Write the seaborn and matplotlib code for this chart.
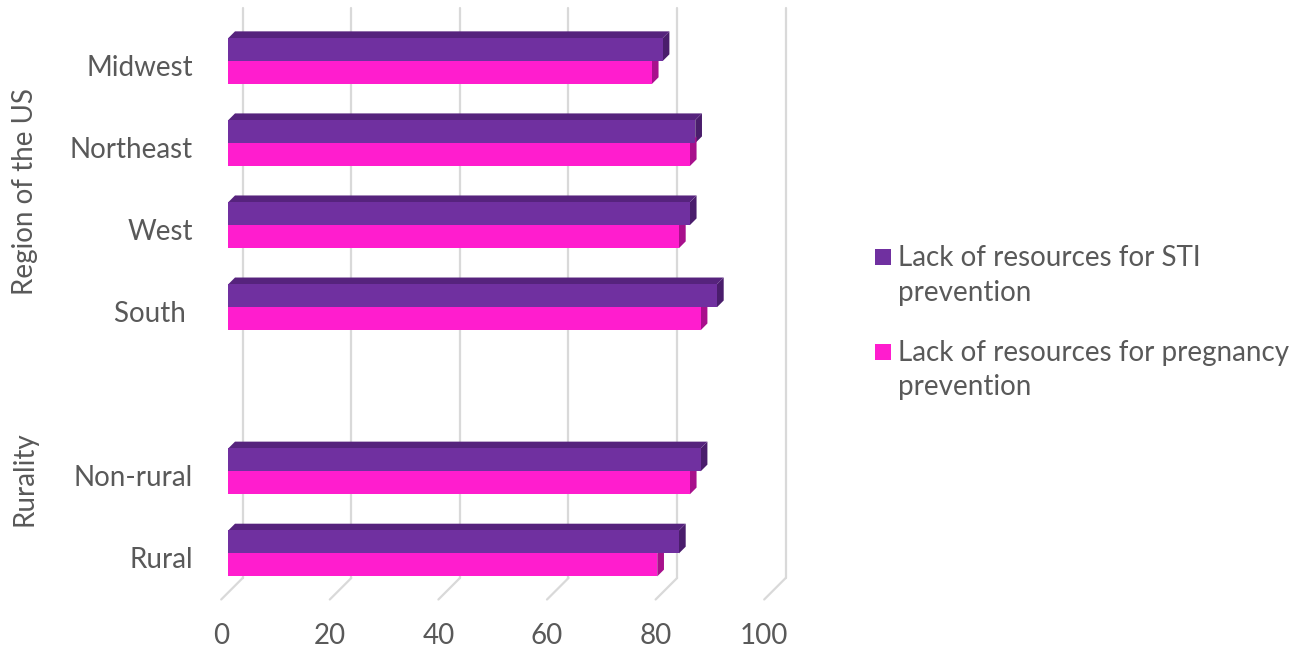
import numpy as np
import pandas as pd
import matplotlib
matplotlib.use("Agg")
import matplotlib.pyplot as plt
import seaborn as sns
from matplotlib.patches import Polygon, Rectangle
from matplotlib.lines import Line2D

# ---------------- data ----------------
regions = ["Midwest", "Northeast", "West", "South "]
rurality = ["Non-rural", "Rural"]
blank_slot = [""]
sti_region = [80, 86, 85, 90]
preg_region = [78, 85, 83, 87]
sti_rural = [87, 83]
preg_rural = [85, 79]
series = ["Lack of resources for STI prevention",
          "Lack of resources for pregnancy prevention"]
legend_labels = ["Lack of resources for STI\nprevention",
                 "Lack of resources for pregnancy\nprevention"]
group_titles = ["Region of the US", "Rurality"]
xticks = [0, 20, 40, 60, 80, 100]

# ---------------- style ----------------
sns.set_style("white")
plt.rcParams["font.family"] = ["Lato", "DejaVu Sans"]
TXT = "#595959"
GRID = "#D9D9D9"
PURPLE, PURPLE_TOP, PURPLE_SIDE = "#7030A0", "#56237D", "#4A1D6C"
PINK, PINK_SIDE = "#FF1DCE", "#A8108C"
FS = 20

order = regions + blank_slot + rurality
df = pd.DataFrame({
    "category": regions + rurality + regions + rurality,
    "value": sti_region + sti_rural + preg_region + preg_rural,
    "series": [series[0]] * 6 + [series[1]] * 6,
})

W, H = 1303, 652
fig = plt.figure(figsize=(W / 100, H / 100), dpi=100)
# axes in pixel layout (top-left origin): bar front plane
ax_left, ax_top, ax_w, ax_h = 228.3, 20.0, 543.0, 574.4
ax = fig.add_axes([ax_left / W, (H - ax_top - ax_h) / H, ax_w / W, ax_h / H])

sns.barplot(data=df, x="value", y="category", hue="series", order=order,
            hue_order=series, palette=[PURPLE, PINK], width=0.56, orient="h",
            ax=ax, legend=False, errorbar=None, saturation=1, linewidth=0)
ax.set_xlim(0, 100)
ax.set_ylim(len(order) - 0.5, -0.5)
ax.set_axis_off()
fig.canvas.draw()

# pixel helpers
px_per_x = ax.transData.transform((1, 0))[0] - ax.transData.transform((0, 0))[0]
px_per_y = abs(ax.transData.transform((0, 1))[1] - ax.transData.transform((0, 0))[1])
depth = 6.7
dx = depth / px_per_x
dy = depth / px_per_y

# 3D faces for bars
for ci, cont in enumerate(ax.containers):
    side_col = PURPLE_SIDE if ci == 0 else PINK_SIDE
    for rect in cont:
        x0, y0 = rect.get_x(), rect.get_y()
        w, h = rect.get_width(), rect.get_height()
        if not np.isfinite(w) or w == 0:
            continue
        x1 = x0 + w
        side = Polygon([(x1, y0), (x1, y0 + h), (x1 + dx, y0 + h - dy), (x1 + dx, y0 - dy)],
                       closed=True, facecolor=side_col, edgecolor="none", zorder=0.6)
        ax.add_patch(side)
        if ci == 0:
            cap = Polygon([(x0, y0), (x1, y0), (x1 + dx, y0 - dy), (x0 + dx, y0 - dy)],
                          closed=True, facecolor=PURPLE_TOP, edgecolor="none", zorder=0.6)
            ax.add_patch(cap)

# back-wall gridlines and floor diagonals
back_off = 14.4          # bar front plane -> back wall
front_off = 21.5         # back wall -> chart front plane
wall_bottom = 578.0
wall_top = 8.0
for t in xticks:
    xb = ax.transData.transform((t, 0))[0] + back_off
    ax.add_line(Line2D([xb / W, xb / W], [(H - wall_bottom) / H, (H - wall_top) / H],
                       transform=fig.transFigure, color=GRID, lw=1.6, zorder=0.2,
                       clip_on=False))
    ax.add_line(Line2D([xb / W, (xb - front_off) / W],
                       [(H - wall_bottom) / H, (H - wall_bottom - front_off) / H],
                       transform=fig.transFigure, color=GRID, lw=1.6, zorder=0.2,
                       clip_on=False))
    fig.text((xb - front_off) / W, (H - 636) / H, str(t), ha="center", va="center",
             fontsize=FS, color=TXT)

# category labels
label_y = {}
for i, cat in enumerate(order):
    yd = ax.transData.transform((0, i))[1] - 7.0
    label_y[i] = yd
    if cat:
        fig.text(193 / W, yd / H, cat, ha="right", va="center", fontsize=FS, color=TXT)

# group titles
groups = [range(0, len(regions)), range(len(regions), len(order))]
for title, idx in zip(group_titles, groups):
    yc = np.mean([label_y[i] for i in idx])
    fig.text(25 / W, yc / H, title, ha="center", va="center", rotation=90,
             fontsize=FS, color=TXT)

# legend
for k, (lab, col) in enumerate(zip(legend_labels, [PURPLE, PINK])):
    y1 = 257.0 + k * 94.5
    fig.add_artist(Rectangle((874.5 / W, (H - y1 - 8) / H), 16 / W, 16 / H,
                             transform=fig.transFigure, facecolor=col, edgecolor="none"))
    fig.text(898 / W, (H - y1 - 18.5) / H, lab, ha="left", va="center", fontsize=FS,
             color=TXT, linespacing=1.42)

fig.savefig("out.png", dpi=100)
